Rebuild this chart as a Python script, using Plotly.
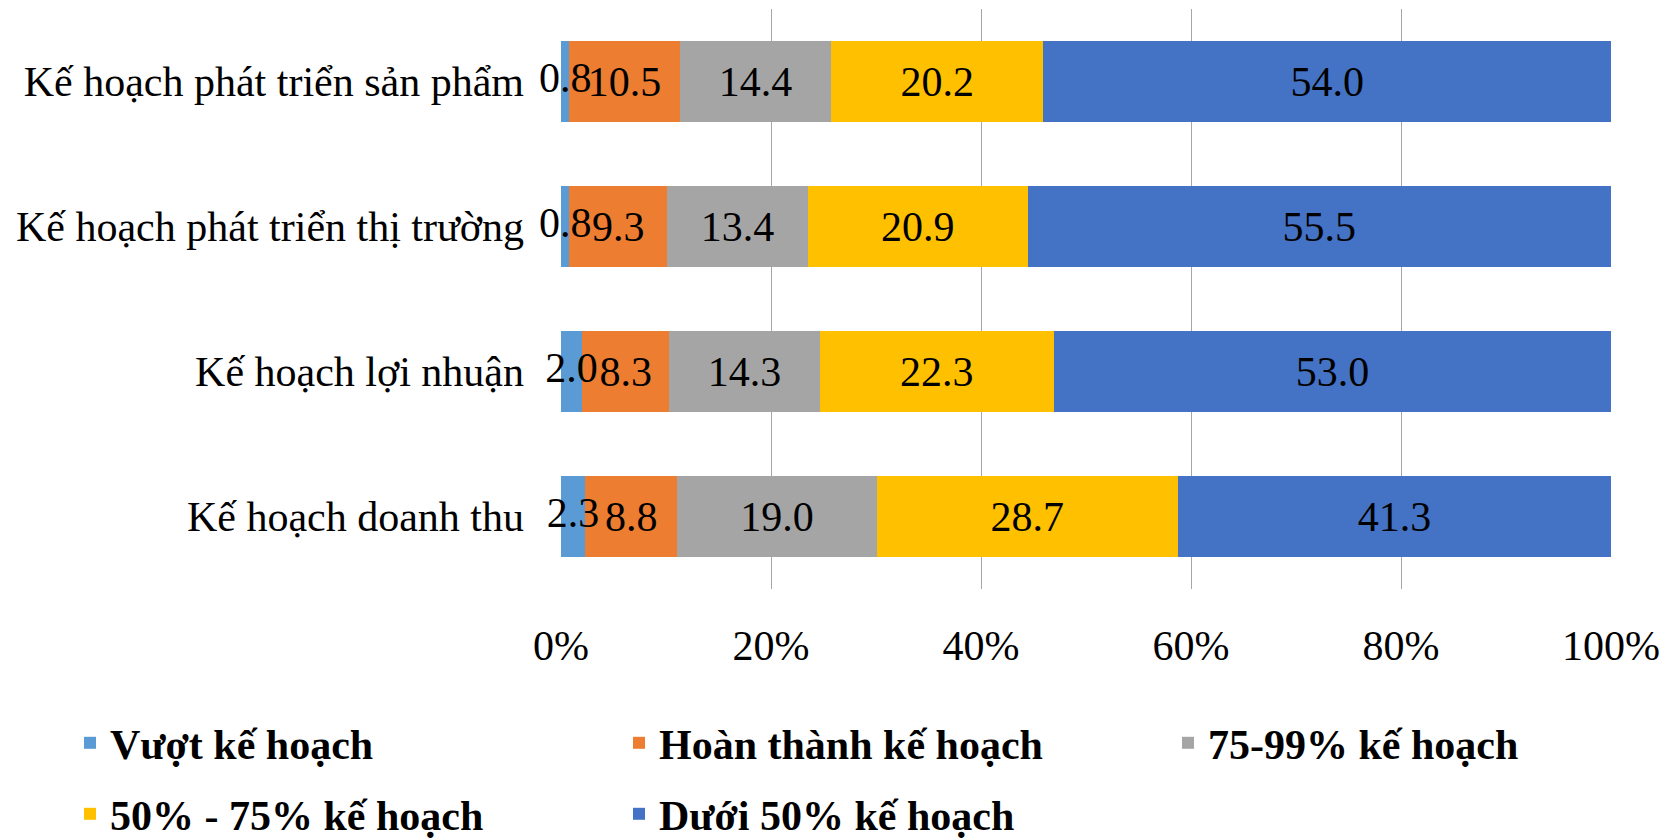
import plotly.graph_objects as go

categories = ["Kế hoạch phát triển sản phẩm", "Kế hoạch phát triển thị trường",
              "Kế hoạch lợi nhuận", "Kế hoạch doanh thu"]
series_names = ["Vượt kế hoạch", "Hoàn thành kế hoạch", "75-99% kế hoạch",
                "50% - 75% kế hoạch", "Dưới 50% kế hoạch"]
vuot = [0.8, 0.8, 2.0, 2.3]
hoan_thanh = [10.5, 9.3, 8.3, 8.8]
p75_99 = [14.4, 13.4, 14.3, 19.0]
p50_75 = [20.2, 20.9, 22.3, 28.7]
duoi50 = [54.0, 55.5, 53.0, 41.3]
tick_vals = [0, 20, 40, 60, 80, 100]
tick_text = ["0%", "20%", "40%", "60%", "80%", "100%"]

colors = ["#5B9BD5", "#ED7D31", "#A5A5A5", "#FFC000", "#4472C4"]
legend_ids = ["legend", "legend2", "legend3", "legend4", "legend5"]
FONT = "Liberation Serif"
FS = 42

all_series = [vuot, hoan_thanh, p75_99, p50_75, duoi50]
totals = [sum(s[i] for s in all_series) for i in range(len(categories))]

fig = go.Figure()
for k, (name, vals, col, lg) in enumerate(zip(series_names, all_series, colors, legend_ids)):
    fig.add_trace(go.Bar(
        y=categories, x=vals, name=name, orientation="h",
        marker=dict(color=col, line=dict(width=0)),
        text=[f"{v:.1f}" for v in vals] if k > 0 else None,
        textposition="inside",
        insidetextanchor="middle", textangle=0, constraintext="none",
        cliponaxis=False,
        textfont=dict(family=FONT, size=FS, color="black"),
        legend=lg, hoverinfo="x+y+name",
    ))

# labels of the thin first segment drawn on top of all bars (as in the original)
fig.add_trace(go.Scatter(
    y=categories, x=[v / 2 / t * 100 for v, t in zip(vuot, totals)],
    mode="text", text=[f"{v:.1f}" for v in vuot], textposition="middle center",
    textfont=dict(family=FONT, size=FS, color="black"),
    showlegend=False, hoverinfo="skip", cliponaxis=False,
))

legend_common = dict(orientation="h", xref="container", yref="container",
                     xanchor="left", yanchor="middle",
                     font=dict(family=FONT, size=FS, color="black", weight="bold"),
                     bgcolor="rgba(0,0,0,0)",
                     itemclick=False, itemdoubleclick=False)

col_x = [62, 611, 1160]
row_y = [735, 806]
pos = [(0, 0), (1, 0), (2, 0), (0, 1), (1, 1)]
legend_layouts = {}
for lg, (c, r) in zip(legend_ids, pos):
    legend_layouts[lg] = dict(x=col_x[c] / 1671, y=1 - row_y[r] / 839, **legend_common)

fig.update_layout(
    width=1671, height=839,
    barmode="stack", barnorm="percent", bargap=0.435,
    paper_bgcolor="white", plot_bgcolor="white",
    margin=dict(l=553, r=68, t=1, b=258),
    font=dict(family=FONT, size=FS, color="black"),
    xaxis=dict(range=[0, 100], tickvals=tick_vals, ticktext=tick_text,
               showgrid=True, gridcolor="#a6a6a6", gridwidth=1,
               zeroline=False, showline=False, ticks="", automargin=False,
               ticklabelstandoff=28,
               tickfont=dict(family=FONT, size=FS, color="black")),
    yaxis=dict(autorange="reversed", showgrid=False, showline=False, ticks="",
               automargin=False, ticklabelstandoff=36,
               tickfont=dict(family=FONT, size=42, color="black")),
    showlegend=True,
    **legend_layouts,
)

fig.write_html("out.html")
